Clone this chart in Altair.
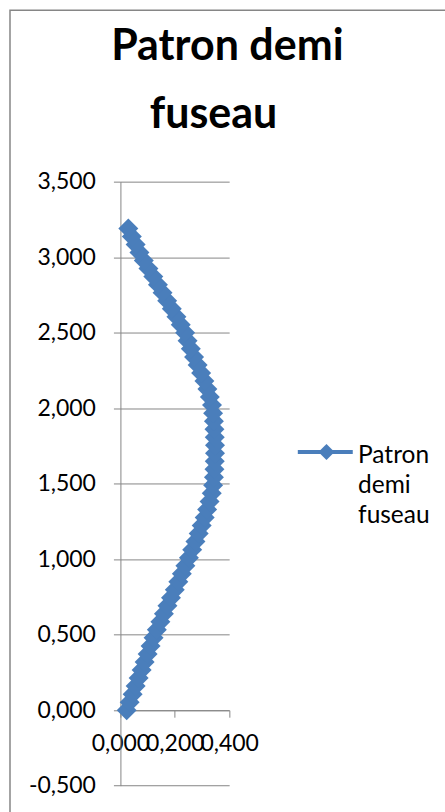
import altair as alt
import pandas as pd

# Half-gore pattern: width (x) against length along the gore (y)
largeur = [0.023, 0.034, 0.045, 0.056, 0.067, 0.078, 0.089, 0.100, 0.111, 0.122,
           0.134, 0.147, 0.160, 0.173, 0.186, 0.200, 0.213, 0.226, 0.239, 0.252,
           0.264, 0.276, 0.288, 0.299, 0.310, 0.319, 0.328, 0.336, 0.341, 0.344,
           0.346, 0.347, 0.348, 0.348, 0.347, 0.346, 0.344, 0.341, 0.337, 0.329,
           0.320, 0.309, 0.297, 0.284, 0.271, 0.259, 0.247, 0.238, 0.222, 0.206,
           0.189, 0.172, 0.155, 0.138, 0.121, 0.103, 0.086, 0.070, 0.056, 0.042,
           0.029]
hauteur = [0.000, 0.053, 0.106, 0.160, 0.213, 0.266, 0.319, 0.372, 0.425, 0.479,
           0.532, 0.585, 0.638, 0.691, 0.744, 0.798, 0.851, 0.904, 0.957, 1.010,
           1.063, 1.117, 1.170, 1.223, 1.276, 1.329, 1.382, 1.436, 1.489, 1.542,
           1.595, 1.648, 1.701, 1.755, 1.808, 1.861, 1.914, 1.967, 2.020, 2.074,
           2.127, 2.180, 2.233, 2.286, 2.339, 2.393, 2.446, 2.499, 2.552, 2.605,
           2.658, 2.712, 2.765, 2.818, 2.871, 2.924, 2.977, 3.031, 3.084, 3.137,
           3.190]
y_ticks = [-0.5, 0.0, 0.5, 1.0, 1.5, 2.0, 2.5, 3.0, 3.5]
x_ticks = [0.0, 0.2, 0.4]
titre = ["Patron demi", "fuseau"]
serie = "Patron demi fuseau"

df = pd.DataFrame({"idx": range(len(largeur)), "x": largeur, "y": hauteur})

BLUE = "#4a7ebb"
GREY = "#868686"
FONT = "Lato"
W, H = 108.8, 604.4
label_fmt = "replace(replace(format(datum.value, '.3f'), '.', ','), '\u2212', '-')"

one = alt.InlineData(values=[{}])

x_enc = alt.X("x:Q", scale=alt.Scale(domain=[0, 0.4], nice=False, zero=False),
              axis=alt.Axis(values=x_ticks, title=None, grid=False, offset=-75.5,
                            domainColor=GREY, tickColor=GREY, tickSize=7,
                            labelExpr=label_fmt, labelFont=FONT, labelFontSize=23,
                            labelColor="black", labelPadding=15, labelOverlap=False,
                            labelFlush=False))
y_enc = alt.Y("y:Q", scale=alt.Scale(domain=[-0.5, 3.5], nice=False, zero=False),
              axis=alt.Axis(values=y_ticks, title=None, grid=True, gridColor=GREY,
                            domainColor=GREY, tickColor=GREY, tickSize=7,
                            labelExpr=label_fmt, labelFont=FONT, labelFontSize=23,
                            labelColor="black", labelPadding=18))

curve = alt.Chart(df).mark_line(color=BLUE, strokeWidth=4).encode(
    x=x_enc, y=y_enc, order="idx:Q")
points = alt.Chart(df).mark_point(shape="diamond", filled=True, size=400,
                                  color=BLUE, opacity=1).encode(
    x="x:Q", y="y:Q")

# Outer chart frame
frame = alt.Chart(one).mark_rect(fill=None, stroke=GREY, strokeWidth=1.5).encode(
    x=alt.value(-110.5), x2=alt.value(400), y=alt.value(-171.5), y2=alt.value(700))

# Two-line title
t1 = alt.Chart(one).mark_text(text=titre[0], font=FONT, fontWeight="bold", fontSize=43,
                              align="center", baseline="alphabetic").encode(
    x=alt.value(107), y=alt.value(-121.5))
t2 = alt.Chart(one).mark_text(text=titre[1], font=FONT, fontWeight="bold", fontSize=43,
                              align="center", baseline="alphabetic").encode(
    x=alt.value(93.2), y=alt.value(-53.2))

# Legend: line with diamond, label wrapped on three lines
leg_line = alt.Chart(one).mark_rule(color=BLUE, strokeWidth=4).encode(
    x=alt.value(177.5), x2=alt.value(232.5), y=alt.value(270.5))
leg_pt = alt.Chart(one).mark_point(shape="diamond", filled=True, size=260,
                                   color=BLUE, opacity=1).encode(
    x=alt.value(206.2), y=alt.value(270.5))
words = serie.split(" ")
leg_txt = [
    alt.Chart(one).mark_text(text=w, font=FONT, fontSize=24.5, align="left",
                             baseline="alphabetic", color="black").encode(
        x=alt.value(237.8), y=alt.value(281.5 + 30 * i))
    for i, w in enumerate(words)
]

chart = alt.layer(frame, curve, points, t1, t2, leg_line, leg_pt, *leg_txt).properties(
    width=W, height=H,
    autosize=alt.AutoSizeParams(type="none"),
    padding={"left": 120.5, "top": 181.5, "right": 216, "bottom": 26},
    background="white",
).configure_view(stroke=None)

chart.save("out.html", embed_options={"renderer": "svg", "actions": False})
